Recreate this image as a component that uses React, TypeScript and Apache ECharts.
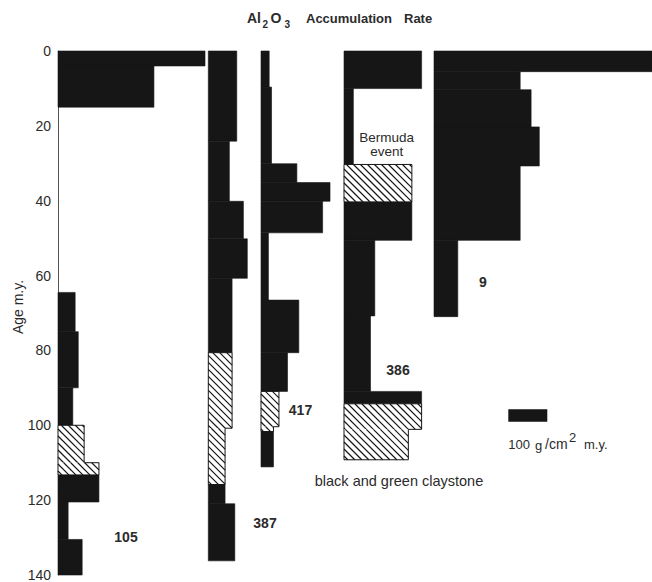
import React, { useEffect, useRef } from 'react';
import * as echarts from 'echarts';

// ---- data (ages in m.y., rates in g/cm2 m.y.) ----
const SITE_NAMES = ['105', '387', '417', '386', '9'];
const AGE_TICKS = [0, 20, 40, 60, 80, 100, 120, 140];

// segment boundaries (n+1), rates (n), hatched flag (n: 1 = black and green claystone / Bermuda event)
const site105Ages = [0, 4, 15, 64.5, 75, 90, 100, 110, 113.3, 120.5, 130.5, 140];
const site105Rates = [377, 246, 0, 44, 52, 38, 67, 105, 105, 26, 62];
const site105Hatch = [0, 0, 0, 0, 0, 0, 1, 1, 0, 0, 0];

const site387Ages = [0, 24, 40, 50, 60.5, 80.3, 100.4, 115.4, 120.5, 135.7];
const site387Rates = [73, 54, 90, 100, 61, 61, 43, 43, 68];
const site387Hatch = [0, 0, 0, 0, 0, 1, 1, 0, 0];

const site417Ages = [0, 9.6, 30, 35, 40, 48.4, 66.3, 80.3, 90.6, 100, 101.3, 110.7];
const site417Rates = [21, 27, 92, 177, 158, 19, 97, 68, 46, 32, 32];
const site417Hatch = [0, 0, 0, 0, 0, 0, 0, 0, 1, 1, 0];

const site386Ages = [0, 10, 30.2, 40.2, 50.4, 70.5, 90.6, 93.9, 100.7, 108.8];
const site386Rates = [199, 24, 174, 174, 79, 68, 199, 199, 165];
const site386Hatch = [0, 0, 1, 0, 0, 0, 0, 1, 1];

const site9Ages = [0, 5.5, 10.3, 20.2, 30.6, 50.4, 70.7];
const site9Rates = [560, 221, 249, 270, 221, 61];
const site9Hatch = [0, 0, 0, 0, 0, 0];

const SCALE_BAR_VALUE = 100;

const SITE_AGES = [site105Ages, site387Ages, site417Ages, site386Ages, site9Ages];
const SITE_RATES = [site105Rates, site387Rates, site417Rates, site386Rates, site9Rates];
const SITE_HATCH = [site105Hatch, site387Hatch, site417Hatch, site386Hatch, site9Hatch];

// ---- layout ----
const W = 652;
const H = 582;
const BASELINES = [58, 208.3, 261, 344, 434];
const GRID_TOP = 51;
const GRID_HEIGHT = 526;
const PX_PER_UNIT = 0.39;
const LABEL_POS: [number, number][] = [[126, 537], [265, 523], [300.5, 410], [398, 370], [483, 282]];
const INK = '#161616';
const TEXT = '#2b2b2b';
const FONT = '"Liberation Sans", Arial, Helvetica, sans-serif';
const HATCH_SPACING = 7;

function buildData(i: number) {
  const ages = SITE_AGES[i];
  const rates = SITE_RATES[i];
  const hatch = SITE_HATCH[i];
  return rates.map((r, k) => {
    const prev = k > 0 && hatch[k - 1] ? rates[k - 1] : -1;
    const next = k < rates.length - 1 && hatch[k + 1] ? rates[k + 1] : -1;
    return [ages[k], ages[k + 1], r, hatch[k], prev, next];
  });
}

function renderItem(params: any, api: any) {
  const s = api.value(0);
  const e = api.value(1);
  const r = api.value(2);
  const h = api.value(3);
  const pr = api.value(4);
  const nr = api.value(5);
  if (!(r > 0)) return { type: 'group', children: [] };
  const p0 = api.coord([0, s]);
  const p1 = api.coord([r, e]);
  const x0 = p0[0], y0 = p0[1], x1 = p1[0], y1 = p1[1];
  if (!h) {
    return {
      type: 'rect',
      shape: { x: x0, y: y0, width: x1 - x0, height: y1 - y0 },
      style: { fill: INK, stroke: INK, lineWidth: 0.6 },
    };
  }
  const children: any[] = [
    { type: 'rect', shape: { x: x0, y: y0, width: x1 - x0, height: y1 - y0 }, style: { fill: '#ffffff' } },
  ];
  const cStart = Math.ceil((y0 - x1) / HATCH_SPACING) * HATCH_SPACING;
  for (let c = cStart; c <= y1 - x0; c += HATCH_SPACING) {
    const xa = Math.max(x0, y0 - c);
    const xb = Math.min(x1, y1 - c);
    if (xb > xa) {
      children.push({
        type: 'line',
        shape: { x1: xa, y1: xa + c, x2: xb, y2: xb + c },
        style: { stroke: INK, lineWidth: 1.2 },
      });
    }
  }
  const edge = (ax: number, ay: number, bx: number, by: number) => ({
    type: 'line',
    shape: { x1: ax, y1: ay, x2: bx, y2: by },
    style: { stroke: INK, lineWidth: 1 },
  });
  children.push(edge(x0, y0, x0, y1));
  children.push(edge(x1, y0, x1, y1));
  if (pr >= 0) {
    const xp = api.coord([pr, s])[0];
    children.push(edge(Math.min(xp, x1), y0, Math.max(xp, x1), y0));
  } else {
    children.push(edge(x0, y0, x1, y0));
  }
  if (!(nr >= 0)) children.push(edge(x0, y1, x1, y1));
  return { type: 'group', children };
}

function txt(text: string, x: number, y: number, size: number, weight: string, align = 'left', extra: any = {}, styleExtra: any = {}) {
  return {
    type: 'text',
    x,
    y,
    ...extra,
    style: {
      text,
      fill: TEXT,
      fontSize: size,
      fontWeight: weight,
      fontFamily: FONT,
      textAlign: align,
      textVerticalAlign: 'middle',
      ...styleExtra,
    },
  };
}

export default function App() {
  const ref = useRef<HTMLDivElement>(null);
  useEffect(() => {
    if (!ref.current) return;
    const chart = echarts.init(ref.current, undefined, { renderer: 'svg' });
    const widths = BASELINES.map((b) => Math.min(390, W - b));
    const grids = BASELINES.map((b, i) => ({ left: b, top: GRID_TOP, width: widths[i], height: GRID_HEIGHT }));
    const xAxes = BASELINES.map((_, i) => ({
      gridIndex: i,
      type: 'value',
      min: 0,
      max: widths[i] / PX_PER_UNIT,
      show: false,
    }));
    const yAxes = BASELINES.map((_, i) => ({
      gridIndex: i,
      type: 'value',
      inverse: true,
      min: AGE_TICKS[0],
      max: AGE_TICKS[AGE_TICKS.length - 1],
      interval: AGE_TICKS[1] - AGE_TICKS[0],
      show: i === 0,
      axisLine: { show: true, lineStyle: { color: '#555', width: 1 } },
      axisTick: { show: false },
      splitLine: { show: false },
      axisLabel: { fontSize: 14, color: TEXT, fontFamily: FONT, margin: 7 },
    }));
    const series = SITE_NAMES.map((name, i) => ({
      type: 'custom',
      name,
      xAxisIndex: i,
      yAxisIndex: i,
      renderItem,
      clip: false,
      data: buildData(i),
    }));
    const barW = SCALE_BAR_VALUE * PX_PER_UNIT;
    const graphic: any[] = [
      // title
      txt('Al', 247, 18, 14, 'bold'),
      txt('2', 262.5, 24.5, 10, 'bold'),
      txt('O', 270.5, 18, 14, 'bold'),
      txt('3', 284.5, 24.5, 10, 'bold'),
      txt('Accumulation', 306, 18, 13, 'bold'),
      txt('Rate', 404, 18, 13, 'bold'),
      // axis name
      txt('Age m.y.', 18, 307, 14, 'normal', 'center', { rotation: Math.PI / 2 }),
      // annotations
      txt('Bermuda\nevent', 386.7, 144, 13.5, 'normal', 'center', {}, { lineHeight: 14 }),
      txt('black and green claystone', 399, 481, 14.5, 'normal', 'center'),
      // scale bar
      { type: 'rect', shape: { x: 508.3, y: 409.3, width: barW, height: 12.4 }, style: { fill: INK } },
      txt('100', 508.3, 444, 13, 'normal'),
      txt('g', 535, 445, 13, 'normal'),
      txt('/cm', 545, 444, 14, 'normal'),
      txt('2', 569, 437.5, 13, 'normal'),
      txt('m.y.', 584, 444, 13, 'normal'),
      // site labels
      ...SITE_NAMES.map((n, i) => txt(n, LABEL_POS[i][0], LABEL_POS[i][1], 14, 'bold', 'center')),
    ];
    chart.setOption({
      animation: false,
      backgroundColor: '#ffffff',
      grid: grids,
      xAxis: xAxes,
      yAxis: yAxes,
      series,
      graphic,
    });
    return () => chart.dispose();
  }, []);
  return <div ref={ref} style={{ position: 'fixed', left: 0, top: 0, width: W, height: H }} />;
}
